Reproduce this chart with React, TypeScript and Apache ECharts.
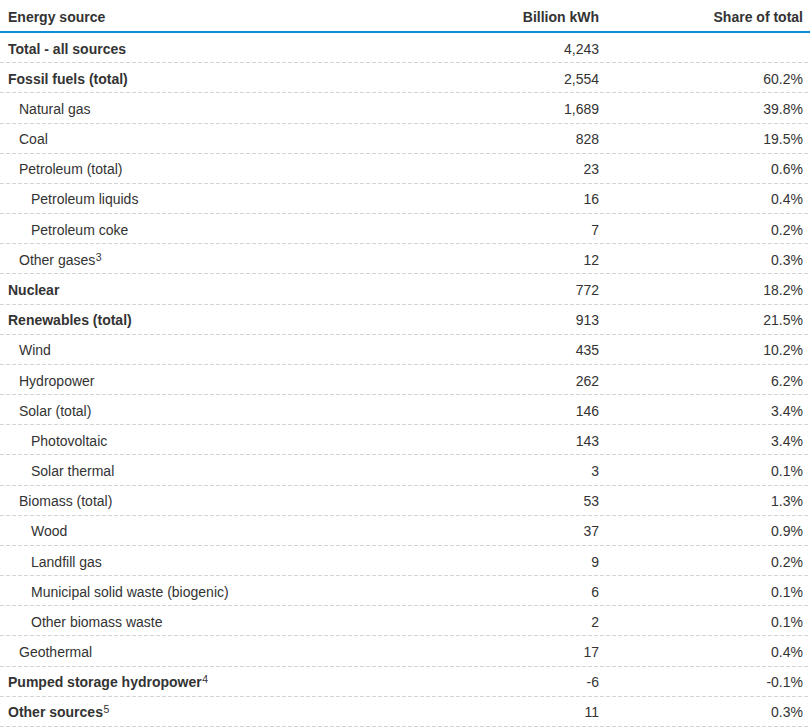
import React, { useEffect, useRef } from "react";
import * as echarts from "echarts";

const headers = ["Energy source", "Billion kWh", "Share of total"];

const sources = [
  "Total - all sources",
  "Fossil fuels (total)",
  "Natural gas",
  "Coal",
  "Petroleum (total)",
  "Petroleum liquids",
  "Petroleum coke",
  "Other gases",
  "Nuclear",
  "Renewables (total)",
  "Wind",
  "Hydropower",
  "Solar (total)",
  "Photovoltaic",
  "Solar thermal",
  "Biomass (total)",
  "Wood",
  "Landfill gas",
  "Municipal solid waste (biogenic)",
  "Other biomass waste",
  "Geothermal",
  "Pumped storage hydropower",
  "Other sources",
];

const levels = [0, 0, 1, 1, 1, 2, 2, 1, 0, 0, 1, 1, 1, 2, 2, 1, 2, 2, 2, 2, 1, 0, 0];

const footnotes = ["", "", "", "", "", "", "", "3", "", "", "", "", "", "", "", "", "", "", "", "", "", "4", "5"];

const billionKWh = [4243, 2554, 1689, 828, 23, 16, 7, 12, 772, 913, 435, 262, 146, 143, 3, 53, 37, 9, 6, 2, 17, -6, 11];

const shares: (number | null)[] = [null, 60.2, 39.8, 19.5, 0.6, 0.4, 0.2, 0.3, 18.2, 21.5, 10.2, 6.2, 3.4, 3.4, 0.1, 1.3, 0.9, 0.2, 0.1, 0.1, 0.4, -0.1, 0.3];

const FONT = 'Arial, "Liberation Sans", Helvetica, sans-serif';
const TEXT = "#333333";
const BLUE = "#0d8fd6";
const RULE = "#d4d4d4";

export default function App() {
  const ref = useRef<HTMLDivElement>(null);

  useEffect(() => {
    if (!ref.current) return;
    const chart = echarts.init(ref.current, null, { renderer: "svg" });
    const indent = [8, 19, 31];
    const valueRight = 599;
    const shareRight = 803;
    const textShift = 1.5;
    const ctx = document.createElement("canvas").getContext("2d");
    const measure = (text: string, bold: boolean) => {
      if (!ctx) return text.length * 7;
      ctx.font = `${bold ? "bold " : ""}14px ${FONT}`;
      return ctx.measureText(text).width;
    };

    const headerStyle = (text: string, align: string) => ({
      text,
      fontFamily: FONT,
      fontSize: 14,
      fontWeight: "bold",
      fill: TEXT,
      align,
      verticalAlign: "middle",
    });

    const textStyle = (text: string, align: string, bold: boolean) => ({
      text,
      fontFamily: FONT,
      fontSize: 14,
      fontWeight: bold ? "bold" : "normal",
      fill: TEXT,
      align,
      verticalAlign: "middle",
    });

    chart.setOption({
      animation: false,
      grid: { left: 0, right: 0, top: 32, bottom: 2 },
      xAxis: { type: "value", min: 0, max: 810, show: false },
      yAxis: { type: "category", data: sources, inverse: true, show: false },
      graphic: [
        { type: "text", x: 8, y: 17, style: headerStyle(headers[0], "left") },
        { type: "text", x: valueRight, y: 17, style: headerStyle(headers[1], "right") },
        { type: "text", x: shareRight, y: 17, style: headerStyle(headers[2], "right") },
        {
          type: "rect",
          shape: { x: 0, y: 31, width: 810, height: 2 },
          style: { fill: BLUE },
        },
      ],
      series: [
        {
          type: "custom",
          coordinateSystem: "cartesian2d",
          encode: { x: 0, y: 1 },
          data: sources.map((_, i) => [0, i]),
          renderItem: (params: any, api: any) => {
            const i = params.dataIndex;
            const lvl = levels[i];
            const [, cy] = api.coord([0, i]);
            const band = api.size([0, 1])[1];
            const lx = api.coord([indent[lvl], i])[0];
            const bold = lvl === 0;
            const note = footnotes[i];
            const sepY = Math.round(cy + band / 2) + 0.5;
            const ty = cy + textShift;
            const share = shares[i];
            const children: any[] = [
              { type: "text", x: lx, y: ty, style: textStyle(sources[i], "left", bold) },
              {
                type: "text",
                x: valueRight,
                y: ty,
                style: textStyle(billionKWh[i].toLocaleString("en-US"), "right", false),
              },
              {
                type: "line",
                shape: { x1: 0, y1: sepY, x2: 810, y2: sepY },
                style: { stroke: RULE, lineWidth: 1, lineDash: [4, 2] },
              },
            ];
            if (note) {
              children.push({
                type: "text",
                x: lx + measure(sources[i], bold) + 0.5,
                y: ty - 3,
                style: {
                  text: note,
                  fontFamily: FONT,
                  fontSize: 10.5,
                  fill: TEXT,
                  align: "left",
                  verticalAlign: "middle",
                },
              });
            }
            if (share !== null) {
              children.push({
                type: "text",
                x: shareRight,
                y: ty,
                style: textStyle(share.toFixed(1) + "%", "right", false),
              });
            }
            return { type: "group", children };
          },
        },
      ],
    });

    return () => chart.dispose();
  }, []);

  return <div ref={ref} style={{ width: 810, height: 728, position: "absolute", left: 0, top: 0 }} />;
}
